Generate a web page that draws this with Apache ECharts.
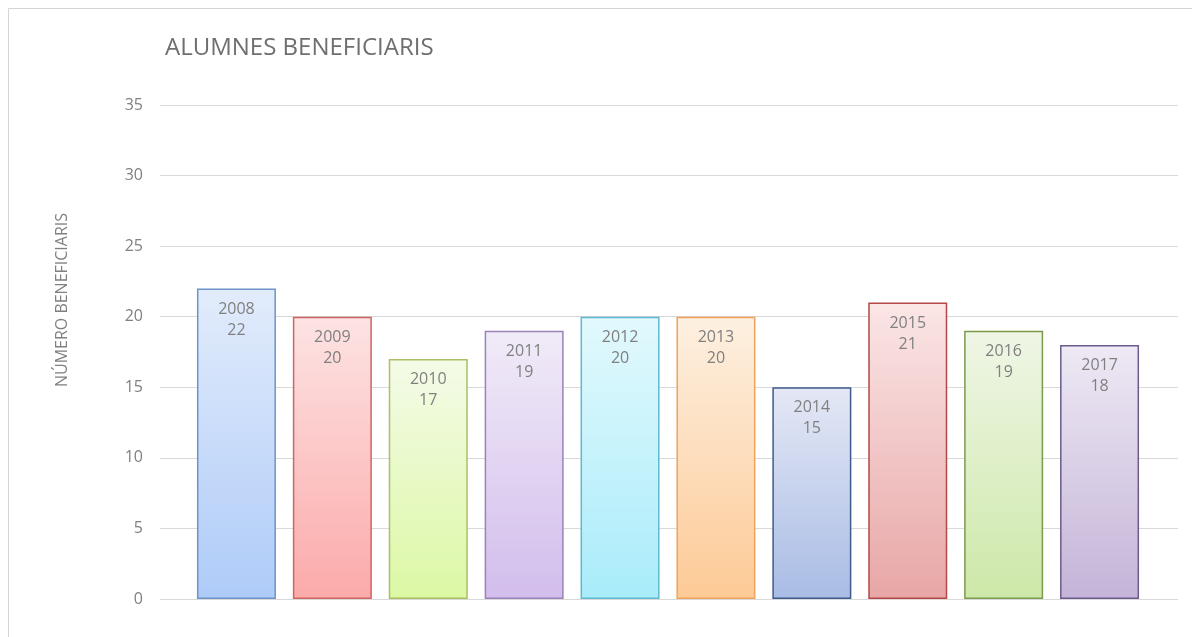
<!DOCTYPE html>
<html>
<head>
<meta charset="utf-8">
<script src="https://cdn.jsdelivr.net/npm/echarts@6/dist/echarts.min.js"></script>
<style>
  html, body { margin: 0; padding: 0; background: #fff; }
  #chart { width: 1192px; height: 637px; }
</style>
</head>
<body>
<div id="chart"></div>
<script>
// data
const years = ['2008', '2009', '2010', '2011', '2012', '2013', '2014', '2015', '2016', '2017']
const beneficiaris = [22, 20, 17, 19, 20, 20, 15, 21, 19, 18]
const yTicks = [0, 5, 10, 15, 20, 25, 30, 35]

// per-bar palette (border, light top, saturated bottom)
const borderColors = ['#6d93c9', '#cf6464', '#a9c065', '#9a82bb', '#5fb9d0', '#eea35c', '#3f5b8b', '#b44848', '#7b9b4c', '#6b5c8c']
const topColors = ['#e2ecfb', '#fde3e3', '#f4fbe8', '#f1ebf8', '#e2f9fd', '#fdf0e1', '#e4e8f5', '#fbe6e6', '#eff6e6', '#eee9f4']
const bottomColors = ['#aecbf8', '#fcaaaa', '#dcf8a4', '#d2bdec', '#a9ecfa', '#fdca96', '#a9bce5', '#e8a6a6', '#cde8a8', '#c4b4d8']

const textGray = '#808080'
const gridGray = '#d9d9d9'

const chart = echarts.init(document.getElementById('chart'))

const barData = beneficiaris.map((v, i) => ({
  value: v,
  itemStyle: {
    borderColor: borderColors[i],
    borderWidth: 1.5,
    color: new echarts.graphic.LinearGradient(0, 0, 0, 1, [
      { offset: 0, color: topColors[i] },
      { offset: 1, color: bottomColors[i] }
    ])
  }
}))

chart.setOption({
  animation: false,
  backgroundColor: '#fff',
  title: {
    text: 'ALUMNES BENEFICIARIS',
    left: 160,
    top: 31,
    textStyle: {
      fontFamily: 'Open Sans',
      fontSize: 24,
      fontWeight: 'normal',
      color: '#6f6f6f'
    }
  },
  graphic: [
    {
      type: 'rect',
      shape: { x: 8.5, y: 8.5, width: 1200, height: 700 },
      style: { fill: 'none', stroke: '#d4d4d4', lineWidth: 1 }
    },
    {
      type: 'text',
      x: 62,
      y: 300,
      rotation: Math.PI / 2,
      style: {
        text: 'NÚMERO BENEFICIARIS',
        font: '16px "Open Sans"',
        fill: textGray,
        align: 'center',
        verticalAlign: 'middle'
      }
    }
  ],
  // grid 0 carries the gridlines and labels, grid 1 holds the bars
  grid: [
    { left: 160, right: 14, top: 105, bottom: 38 },
    { left: 188.5, right: 44.5, top: 105, bottom: 38 }
  ],
  xAxis: [
    { type: 'category', gridIndex: 0, data: years, show: false },
    {
      type: 'category',
      gridIndex: 1,
      data: years,
      axisLine: { show: false },
      axisTick: { show: false },
      axisLabel: { show: false }
    }
  ],
  yAxis: [
    {
      type: 'value',
      gridIndex: 0,
      min: yTicks[0],
      max: yTicks[yTicks.length - 1],
      interval: 5,
      axisLine: { show: false },
      axisTick: { show: false },
      axisLabel: {
        margin: 17,
        fontFamily: 'Open Sans',
        fontSize: 16,
        color: textGray
      },
      splitLine: { lineStyle: { color: gridGray, width: 1 } }
    },
    {
      type: 'value',
      gridIndex: 1,
      min: yTicks[0],
      max: yTicks[yTicks.length - 1],
      interval: 5,
      show: false,
      splitLine: { show: false }
    }
  ],
  series: [{
    type: 'bar',
    xAxisIndex: 1,
    yAxisIndex: 1,
    barWidth: 79,
    data: barData,
    label: {
      show: true,
      position: 'insideTop',
      distance: 10,
      formatter: (p) => p.name + '\n' + p.value,
      fontFamily: 'Open Sans',
      fontSize: 16,
      lineHeight: 21,
      color: textGray
    }
  }]
})
</script>
</body>
</html>
